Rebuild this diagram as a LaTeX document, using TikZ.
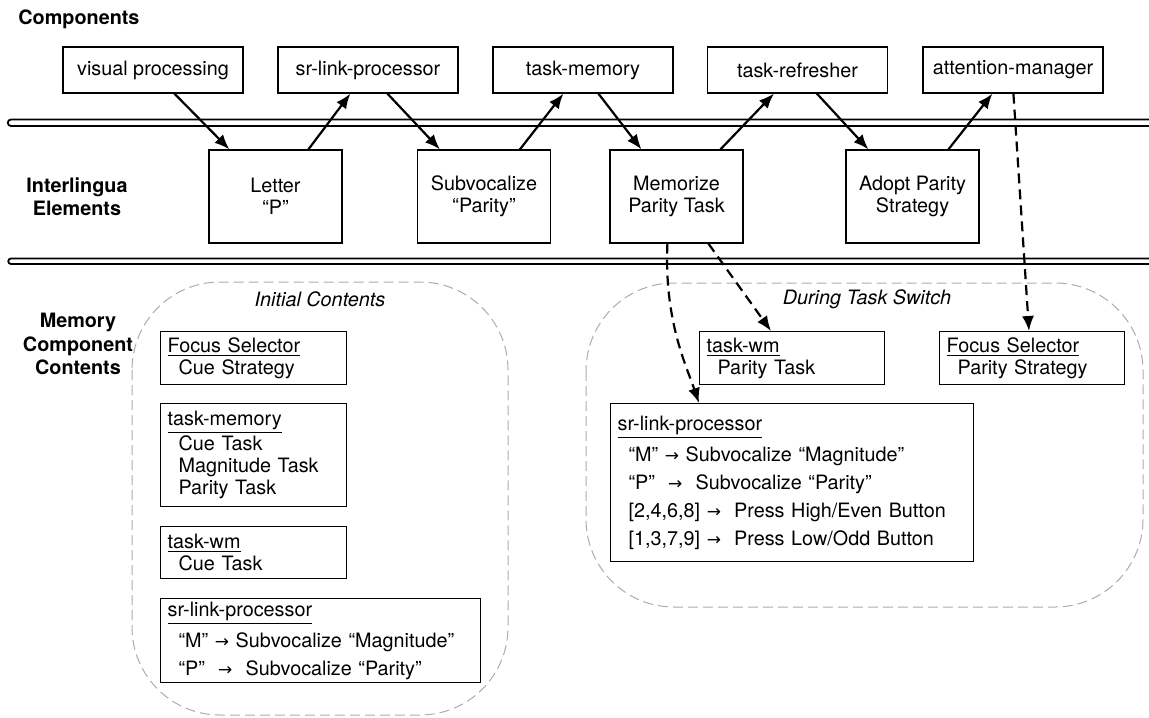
\documentclass[tikz,border=0pt]{standalone}
\usepackage{fontspec}
\setmainfont{TeX Gyre Heros}
\newfontfamily\arrowfont{DejaVu Sans}
\newcommand{\myarr}{{\arrowfont\fontsize{8.5}{11}\selectfont →}}
\usetikzlibrary{arrows.meta,calc}
\begin{document}
\begin{tikzpicture}[x=0.5pt,y=-0.5pt,
  every node/.style={font=\fontsize{9.9}{11}\selectfont, inner sep=0pt},
  comp/.style={draw, line width=0.6pt, minimum width=90pt, minimum height=23pt},
  ilbox/.style={draw, line width=0.6pt, minimum width=66.5pt, minimum height=46.5pt, align=center},
  membox/.style={draw, line width=0.6pt, align=left, inner xsep=3.5pt, anchor=north west},
  head/.style={font=\fontsize{9.9}{11.7}\selectfont\bfseries, align=center},
  arr/.style={line width=1.1pt, -{Latex[length=7.5pt,width=6pt]}},
  darr/.style={arr, dash pattern=on 5pt off 3pt},
  region/.style={draw=gray!65, line width=0.5pt, dash pattern=on 5pt off 2.5pt, rounded corners=44pt},
  bus/.style={line width=0.9pt}
]
\useasboundingbox (0,0) rectangle (1149,717);

% headings
\node[head, anchor=west] (hcomp) at (18,19) {Components};
\node[head] (hil) at (77,197) {Interlingua\\Elements};
\node[head] (hmem) at (78,344) {Memory\\Component\\Contents};

% buses
\draw[bus] (1155,119.5) -- (11,119.5) arc[start angle=270, end angle=90, radius=3.25] -- (1155,126);
\draw[bus] (1155,258.5) -- (11,258.5) arc[start angle=270, end angle=90, radius=2.75] -- (1155,264);

% components
\node[comp] (vis) at (153,70) {visual processing};
\node[comp] (srl) at (368,70) {sr-link-processor};
\node[comp] (tm) at (583,70) {task-memory};
\node[comp] (tr) at (797.5,70) {task-refresher};
\node[comp] (am) at (1013,70) {attention-manager};

% interlingua elements
\node[ilbox] (letter) at (275.5,196.5) {Letter\\“P”};
\node[ilbox] (sub) at (484,196.5) {Subvocalize\\“Parity”};
\node[ilbox] (mem) at (676.5,196.5) {Memorize\\Parity Task};
\node[ilbox] (adopt) at (912.5,196.5) {Adopt Parity\\Strategy};

% regions
\draw[region] (132,282) rectangle (508,715);
\draw[region] (586,283) rectangle (1143,607);
\node[font=\fontsize{9.9}{11}\selectfont\itshape] (lini) at (320,299) {Initial Contents};
\node[font=\fontsize{9.9}{11}\selectfont\itshape] (ldur) at (867,299) {During Task Switch};

% initial contents
\node[membox, text width=86pt, minimum height=26.5pt] (fs1) at (160,331)
  {\underline{Focus Selector}\\\hspace*{5.5pt}Cue Strategy};
\node[membox, text width=86pt, minimum height=51.5pt] (tm1) at (160,403)
  {\underline{task-memory}\\\hspace*{5.5pt}Cue Task\\\hspace*{5.5pt}Magnitude Task\\\hspace*{5.5pt}Parity Task};
\node[membox, text width=86pt, minimum height=26pt] (twm1) at (160,526)
  {\underline{task-wm}\\\hspace*{5.5pt}Cue Task};
\node[membox, text width=153pt, minimum height=42pt] (srl1) at (160,598)
  {\underline{sr-link-processor}\\[3pt]
   \hspace*{5.5pt}“M” \myarr{} Subvocalize “Magnitude”\\[3pt]
   \hspace*{5.5pt}“P”\ \ \myarr\ \ Subvocalize “Parity”};

% during task switch
\node[membox, text width=85.5pt, minimum height=26.5pt] (twm2) at (699,331)
  {\underline{task-wm}\\\hspace*{5.5pt}Parity Task};
\node[membox, text width=85.5pt, minimum height=26.5pt] (fs2) at (939,331)
  {\underline{Focus Selector}\\\hspace*{5.5pt}Parity Strategy};
\node[membox, text width=174.5pt, minimum height=79pt] (srl2) at (610,403)
  {\underline{sr-link-processor}\\[3pt]
   \hspace*{5.5pt}“M” \myarr{} Subvocalize “Magnitude”\\[3pt]
   \hspace*{5.5pt}“P”\ \ \myarr\ \ Subvocalize “Parity”\\[3pt]
   \hspace*{5.5pt}[2,4,6,8] \myarr\ \ Press High/Even Button\\[3pt]
   \hspace*{5.5pt}[1,3,7,9] \myarr\ \ Press Low/Odd Button};

% solid arrows
\draw[arr] ($(vis.south west)+(112,0)$) -- ($(letter.north west)+(21,0)$);
\draw[arr] ($(letter.north west)+(100,0)$) -- ($(srl.south west)+(73,0)$);
\draw[arr] ($(srl.south west)+(110,0)$) -- ($(sub.north west)+(23,0)$);
\draw[arr] ($(sub.north west)+(103,0)$) -- ($(tm.south west)+(71,0)$);
\draw[arr] ($(tm.south west)+(106,0)$) -- ($(mem.north west)+(32,0)$);
\draw[arr] ($(mem.north west)+(111,0)$) -- ($(tr.south west)+(67,0)$);
\draw[arr] ($(tr.south west)+(110,0)$) -- ($(adopt.north west)+(23,0)$);
\draw[arr] ($(adopt.north west)+(103,0)$) -- ($(am.south west)+(70,0)$);

% dashed arrows
\draw[darr] ($(am.south west)+(91,0)$) -- ($(fs2.north west)+(90,0)$);
\draw[darr] ($(mem.south west)+(99,0)$) -- ($(twm2.north west)+(72,0)$);
\draw[darr] ($(mem.south west)+(58,0)$) .. controls (664,320) and (686,365) .. ($(srl2.north west)+(89,0)$);
\end{tikzpicture}
\end{document}
